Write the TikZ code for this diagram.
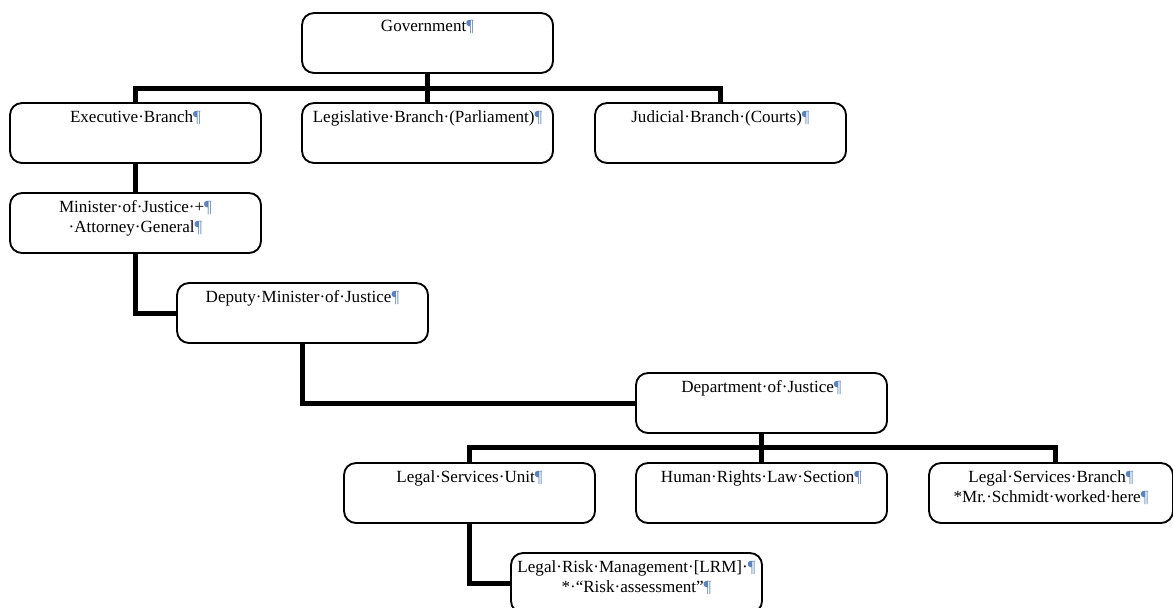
\documentclass[tikz,border=0pt]{standalone}
\usepackage{fontspec}
\setmainfont{Liberation Serif}
\definecolor{pilc}{RGB}{90,130,190}
\newcommand\mypil{{\color{pilc}¶}}
\begin{document}
\begin{tikzpicture}[x=0.75pt,y=-0.75pt,
  box/.style={draw=black,line width=1.4pt,rounded corners=9pt,fill=white,
    minimum width=188.25pt,minimum height=45pt,inner sep=0pt,outer sep=0pt},
  lbl/.style={anchor=north,inner sep=0pt,yshift=-5.5pt,font=\fontsize{12.8}{15}\selectfont,align=center},
  conn/.style={line width=3.75pt,black}]
\useasboundingbox (0,0) rectangle (1173,607);
\clip (0,0) rectangle (1173,607);
\coordinate (bus1) at (427.5,88);
\coordinate (bus2) at (761.5,447);
\node[box,anchor=north west,label={[lbl]north:Government\mypil}] (gov) at (302,13) {};
\node[box,anchor=north west,label={[lbl]north:Executive·Branch\mypil}] (exec) at (10,103) {};
\node[box,anchor=north west,label={[lbl]north:Legislative·Branch·(Parliament)\mypil}] (leg) at (302,103) {};
\node[box,anchor=north west,label={[lbl]north:Judicial·Branch·(Courts)\mypil}] (jud) at (595,103) {};
\node[box,anchor=north west,label={[lbl]north:Minister·of·Justice·+\mypil\\·Attorney·General\mypil}] (min) at (10,193) {};
\node[box,anchor=north west,label={[lbl]north:Deputy·Minister·of·Justice\mypil}] (dep) at (177,283) {};
\node[box,anchor=north west,label={[lbl]north:Department·of·Justice\mypil}] (dept) at (636,373) {};
\node[box,anchor=north west,label={[lbl]north:Legal·Services·Unit\mypil}] (lsu) at (344,463) {};
\node[box,anchor=north west,label={[lbl]north:Human·Rights·Law·Section\mypil}] (hr) at (636,463) {};
\node[box,anchor=north west,minimum width=183pt,label={[lbl]north:Legal·Services·Branch\mypil\\*Mr.·Schmidt·worked·here\mypil}] (lsb) at (929,463) {};
\node[box,anchor=north west,label={[lbl]north:Legal·Risk·Management·[LRM]·\mypil\\*·“Risk·assessment”\mypil}] (lrm) at (511,553) {};
\begin{scope}[conn]
\draw (gov.south) -- (bus1);
\draw (exec.north) |- (bus1) -| (jud.north);
\draw (leg.north) -- (leg.north |- bus1);
\draw (exec.south) -- (min.north);
\draw (min.south) |- (dep.west);
\draw (dep.south) |- (dept.west);
\draw (dept.south) -- (bus2);
\draw (lsu.north) |- (bus2) -| ([xshift=3]lsb.north);
\draw (hr.north) -- (hr.north |- bus2);
\draw (lsu.south) |- (lrm.west);
\end{scope}
\end{tikzpicture}
\end{document}
